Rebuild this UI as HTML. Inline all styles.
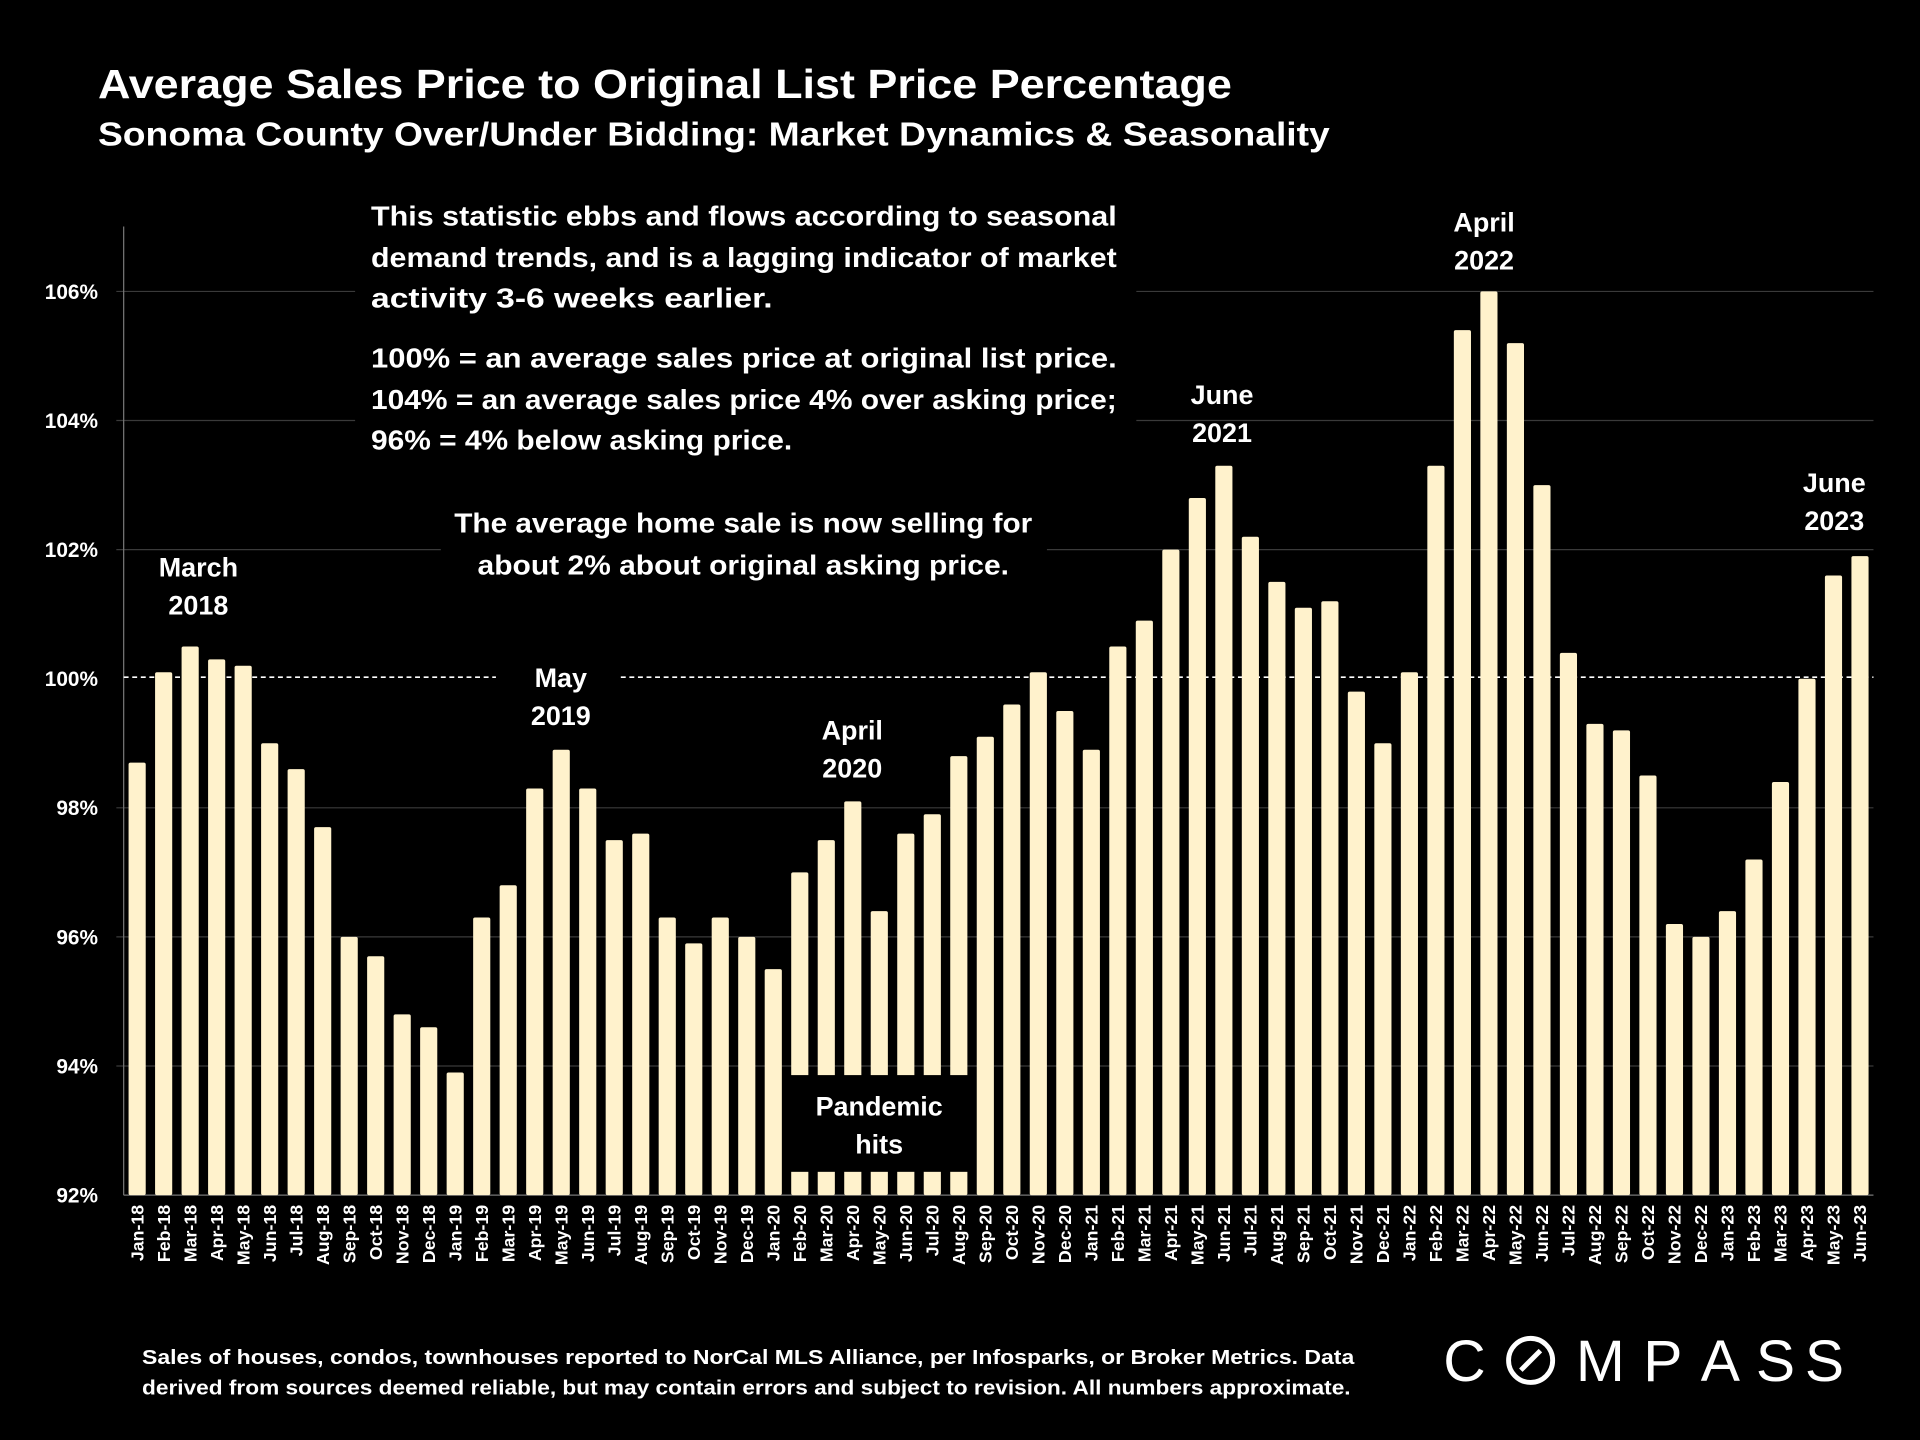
<!DOCTYPE html>
<html><head><meta charset="utf-8"><style>
html,body{margin:0;padding:0;background:#000;width:1920px;height:1440px;overflow:hidden}
text{font-family:"Liberation Sans",sans-serif;font-weight:bold;fill:#fff}
</style></head><body>
<svg id="chart" width="1920" height="1440" viewBox="0 0 1568 1176" xmlns="http://www.w3.org/2000/svg">
<rect width="1568" height="1176" fill="#000"/>
<text x="80" y="80" font-size="33" textLength="926" lengthAdjust="spacingAndGlyphs">Average Sales Price to Original List Price Percentage</text>
<text x="80" y="119" font-size="27" textLength="1006" lengthAdjust="spacingAndGlyphs">Sonoma County Over/Under Bidding: Market Dynamics &amp; Seasonality</text>
<g id="grid"></g>
<line x1="101" y1="185" x2="101" y2="976" stroke="#777" stroke-width="1"/>
<line x1="101" y1="976" x2="1530" y2="976" stroke="#777" stroke-width="1"/>
<line x1="101" y1="553" x2="1530" y2="553" stroke="#fff" stroke-width="1.3" stroke-dasharray="4,3"/>
<g id="bars"></g>
<g id="xlabels"></g>
<g id="ylabels"></g>
<rect x="290" y="155" width="638" height="228" fill="#000"/>
<g font-size="23">
<text x="303" y="184" textLength="609" lengthAdjust="spacingAndGlyphs">This statistic ebbs and flows according to seasonal</text>
<text x="303" y="218" textLength="609" lengthAdjust="spacingAndGlyphs">demand trends, and is a lagging indicator of market</text>
<text x="303" y="251" textLength="328" lengthAdjust="spacingAndGlyphs">activity 3-6 weeks earlier.</text>
<text x="303" y="300" textLength="609" lengthAdjust="spacingAndGlyphs">100% = an average sales price at original list price.</text>
<text x="303" y="334" textLength="609" lengthAdjust="spacingAndGlyphs">104% = an average sales price 4% over asking price;</text>
<text x="303" y="367" textLength="344" lengthAdjust="spacingAndGlyphs">96% = 4% below asking price.</text>
</g>
<rect x="360" y="405" width="495" height="75" fill="#000"/>
<g font-size="23" text-anchor="middle">
<text x="607" y="435" textLength="472" lengthAdjust="spacingAndGlyphs">The average home sale is now selling for</text>
<text x="607" y="469" textLength="434" lengthAdjust="spacingAndGlyphs">about 2% about original asking price.</text>
</g>
<rect x="405" y="535" width="100" height="60" fill="#000"/>
<g font-size="22" text-anchor="middle">
<g><text x="162" y="471">March</text><text x="162" y="502">2018</text></g>
<g><text x="458" y="561">May</text><text x="458" y="592">2019</text></g>
<g><text x="696" y="604">April</text><text x="696" y="635">2020</text></g>
<g><text x="998" y="330">June</text><text x="998" y="361">2021</text></g>
<g><text x="1212" y="189">April</text><text x="1212" y="220">2022</text></g>
<g><text x="1498" y="402">June</text><text x="1498" y="433">2023</text></g>
</g>
<rect x="645" y="878" width="150" height="79" fill="#000"/>
<g font-size="22" text-anchor="middle"><text x="718" y="911">Pandemic</text><text x="718" y="942">hits</text></g>
<g font-size="16.5">
<text x="116" y="1114" textLength="990" lengthAdjust="spacingAndGlyphs">Sales of houses, condos, townhouses reported to NorCal MLS Alliance, per Infosparks, or Broker Metrics. Data</text>
<text x="116" y="1139" textLength="987" lengthAdjust="spacingAndGlyphs">derived from sources deemed reliable, but may contain errors and subject to revision. All numbers approximate.</text>
</g>
<g font-size="48" text-anchor="middle">
<text x="1196" y="1128" style="font-weight:normal">C</text>
<circle cx="1250" cy="1111" r="18" fill="none" stroke="#fff" stroke-width="4"/>
<line x1="1242" y1="1119" x2="1258" y2="1103" stroke="#fff" stroke-width="4"/>
<text x="1307" y="1128" style="font-weight:normal">M</text>
<text x="1358" y="1128" style="font-weight:normal">P</text>
<text x="1405" y="1128" style="font-weight:normal">A</text>
<text x="1450" y="1128" style="font-weight:normal">S</text>
<text x="1490" y="1128" style="font-weight:normal">S</text>
</g>
</svg>
<script>
const months = ["Jan","Feb","Mar","Apr","May","Jun","Jul","Aug","Sep","Oct","Nov","Dec"];
const categories = [];
for (let y = 18; y <= 23; y++) for (let m = 0; m < 12; m++) { if (y === 23 && m > 5) break; categories.push(months[m] + "-" + y); }
const values = [98.7,100.1,100.5,100.3,100.2,99.0,98.6,97.7,96.0,95.7,94.8,94.6,
93.9,96.3,96.8,98.3,98.9,98.3,97.5,97.6,96.3,95.9,96.3,96.0,
95.5,97.0,97.5,98.1,96.4,97.6,97.9,98.8,99.1,99.6,100.1,99.5,
98.9,100.5,100.9,102.0,102.8,103.3,102.2,101.5,101.1,101.2,99.8,99.0,
100.1,103.3,105.4,106.0,105.2,103.0,100.4,99.3,99.2,98.5,96.2,96.0,
96.4,97.2,98.4,100.0,101.6,101.9];
const yTicks = [92,94,96,98,100,102,104,106];
const yTickLabels = ["92%","94%","96%","98%","100%","102%","104%","106%"];
const NS = "http://www.w3.org/2000/svg";
function yScale(v){ return 976 - (v - 92) / 14 * 738; }
function xScale(i){ return 112 + i * (1519 - 112) / (categories.length - 1); }
const grid = document.getElementById("grid"), bars = document.getElementById("bars"),
      xl = document.getElementById("xlabels"), yl = document.getElementById("ylabels");
yTicks.forEach((t, i) => {
  const y = yScale(t);
  if (t !== 92 && t !== 100) {
    const l = document.createElementNS(NS, "line");
    l.setAttribute("x1", 95); l.setAttribute("x2", 1530); l.setAttribute("y1", y); l.setAttribute("y2", y);
    l.setAttribute("stroke", "#3a3a3a"); l.setAttribute("stroke-width", "1");
    
    
    grid.appendChild(l);
  }
  const tx = document.createElementNS(NS, "text");
  tx.setAttribute("x", 80); tx.setAttribute("y", y + 6); tx.setAttribute("text-anchor", "end"); tx.setAttribute("font-size", "17");
  tx.textContent = yTickLabels[i];
  
  
  yl.appendChild(tx);
});
values.forEach((v, i) => {
  const x = xScale(i), top = yScale(v);
  const r = document.createElementNS(NS, "rect");
  r.setAttribute("x", x - 7); r.setAttribute("y", top); r.setAttribute("width", 14); r.setAttribute("height", 976 - top);
  r.setAttribute("rx", 1.5); r.setAttribute("fill", "#FFF2CC");
  
  
  bars.appendChild(r);
  const t = document.createElementNS(NS, "text");
  t.setAttribute("transform", "translate(" + (x + 5) + ",984) rotate(-90)");
  t.setAttribute("text-anchor", "end"); t.setAttribute("font-size", "14.5");
  t.textContent = categories[i];
  
  
  xl.appendChild(t);
});
</script>
</body></html>
